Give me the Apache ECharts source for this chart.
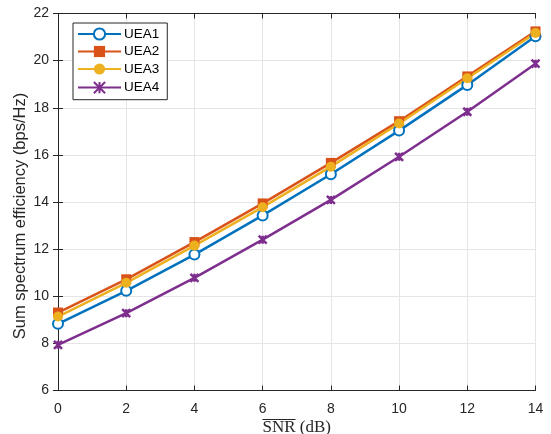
<!DOCTYPE html>
<html>
<head>
<meta charset="utf-8">
<script src="https://cdn.jsdelivr.net/npm/echarts@6/dist/echarts.min.js"></script>
<style>
  html, body { margin: 0; padding: 0; background: #fff; }
  #chart { width: 551px; height: 434px; }
</style>
</head>
<body>
<div id="chart"></div>
<script>
// SNR sweep (dB) and sum spectral efficiency per user-equipment arrangement
var snr = [0, 2, 4, 6, 8, 10, 12, 14];
var uea1 = [8.83, 10.23, 11.77, 13.43, 15.18, 17.03, 18.97, 21.03];
var uea2 = [9.31, 10.72, 12.30, 13.94, 15.66, 17.43, 19.33, 21.24];
var uea3 = [9.14, 10.57, 12.15, 13.78, 15.50, 17.33, 19.25, 21.17];
var uea4 = [7.94, 9.28, 10.78, 12.40, 14.09, 15.92, 17.83, 19.87];
var seriesNames = ['UEA1', 'UEA2', 'UEA3', 'UEA4'];
var yTicks = { min: 6, max: 22, step: 2 };
var xTicks = { min: 0, max: 14, step: 2 };

var colors = ['#0072BD', '#D95319', '#EDB120', '#7E2F8E'];
var axisColor = '#262626';
var W = 551, H = 434;
var gridLeft = 58, gridTop = 13.5, gridRight = 15.5, gridBottom = 43.5;
var xNameGap = 37;
var xNameSize = 17;
var overlineGap = 28.5;
var serifFamily = '"Liberation Serif", "DejaVu Serif", serif';
var sansFamily = '"Liberation Sans", Arial, sans-serif';

function pairs(ys) {
  return snr.map(function (x, i) { return [x, ys[i]]; });
}

var chart = echarts.init(document.getElementById('chart'), null, { renderer: 'canvas' });

function lineSeries(name, ys, color, symbol, size, extraStyle) {
  return {
    name: name,
    type: 'line',
    data: pairs(ys),
    symbol: symbol,
    symbolSize: size,
    showAllSymbol: true,
    lineStyle: { color: color, width: 2.5 },
    itemStyle: Object.assign({ color: color }, extraStyle || {}),
    emphasis: { disabled: true },
    animation: false,
    z: 3
  };
}

var series = [
  lineSeries(seriesNames[0], uea1, colors[0], 'emptyCircle', 10, { borderWidth: 2.5, borderColor: colors[0] }),
  lineSeries(seriesNames[1], uea2, colors[1], 'rect', 10, {}),
  lineSeries(seriesNames[2], uea3, colors[2], 'circle', 10, {}),
  lineSeries(seriesNames[3], uea4, colors[3], 'path://M0,0L10,10M10,0L0,10M5,0L5,10', 8,
    { color: 'none', borderColor: colors[3], borderWidth: 2.5 })
];

var baseAxisLine = { show: true, lineStyle: { color: axisColor, width: 1 } };
var tickInside = { show: true, inside: true, length: 5, lineStyle: { color: axisColor, width: 1 } };

var option = {
  backgroundColor: '#ffffff',
  animation: false,
  grid: {
    left: gridLeft, top: gridTop, right: gridRight, bottom: gridBottom,
    containLabel: false, outerBoundsMode: 'none'
  },
  legend: {
    data: seriesNames,
    orient: 'vertical',
    left: 73,
    top: 23,
    itemWidth: 43,
    itemHeight: 14,
    itemGap: 3.5,
    padding: [4, 8, 4, 4],
    backgroundColor: '#ffffff',
    borderColor: axisColor,
    borderWidth: 1,
    borderRadius: 0,
    textStyle: { color: '#000', fontSize: 13.5, fontFamily: sansFamily, padding: [0, 0, 0, -2] },
    selectedMode: false
  },
  xAxis: [{
    type: 'value',
    min: xTicks.min, max: xTicks.max, interval: xTicks.step,
    axisLine: baseAxisLine,
    axisTick: tickInside,
    axisLabel: { color: axisColor, fontSize: 14, fontFamily: sansFamily, margin: 12 },
    splitLine: { show: true, lineStyle: { color: '#e5e5e5', width: 1 } },
    name: 'SNR (dB)',
    nameLocation: 'middle',
    nameGap: xNameGap,
    nameMoveOverlap: false,
    nameTextStyle: {
      color: axisColor, fontSize: xNameSize, fontFamily: serifFamily,
      verticalAlign: 'middle', lineHeight: xNameSize
    }
  }, {
    type: 'value', position: 'top',
    min: xTicks.min, max: xTicks.max, interval: xTicks.step,
    axisLine: baseAxisLine, axisTick: tickInside,
    axisLabel: { show: false }, splitLine: { show: false }
  }],
  yAxis: [{
    type: 'value',
    min: yTicks.min, max: yTicks.max, interval: yTicks.step,
    axisLine: baseAxisLine,
    axisTick: tickInside,
    axisLabel: { color: axisColor, fontSize: 14, fontFamily: sansFamily, margin: 9 },
    splitLine: { show: true, lineStyle: { color: '#e5e5e5', width: 1 } },
    name: 'Sum spectrum efficiency (bps/Hz)',
    nameLocation: 'middle',
    nameGap: 38,
    nameMoveOverlap: false,
    nameTextStyle: {
      color: axisColor, fontSize: 16.5, fontFamily: sansFamily,
      verticalAlign: 'middle', lineHeight: 17, padding: [0, 28, 0, 0]
    }
  }, {
    type: 'value', position: 'right',
    min: yTicks.min, max: yTicks.max, interval: yTicks.step,
    axisLine: baseAxisLine, axisTick: tickInside,
    axisLabel: { show: false }, splitLine: { show: false }
  }],
  series: series
};

chart.setOption(option);

// Overline above "SNR" in the x-axis title
(function () {
  var ctx = document.createElement('canvas').getContext('2d');
  ctx.font = xNameSize + 'px ' + serifFamily;
  var full = ctx.measureText('SNR (dB)').width;
  var part = ctx.measureText('SNR').width;
  var cx = gridLeft + (W - gridLeft - gridRight) / 2;
  var axisY = H - gridBottom;
  var x0 = cx - full / 2;
  var yLine = Math.round(axisY + overlineGap) + 0.5;
  chart.setOption({
    graphic: [{
      type: 'line',
      shape: { x1: x0, y1: yLine, x2: x0 + part, y2: yLine },
      style: { stroke: axisColor, lineWidth: 1 },
      silent: true
    }]
  });
})();
</script>
</body>
</html>
